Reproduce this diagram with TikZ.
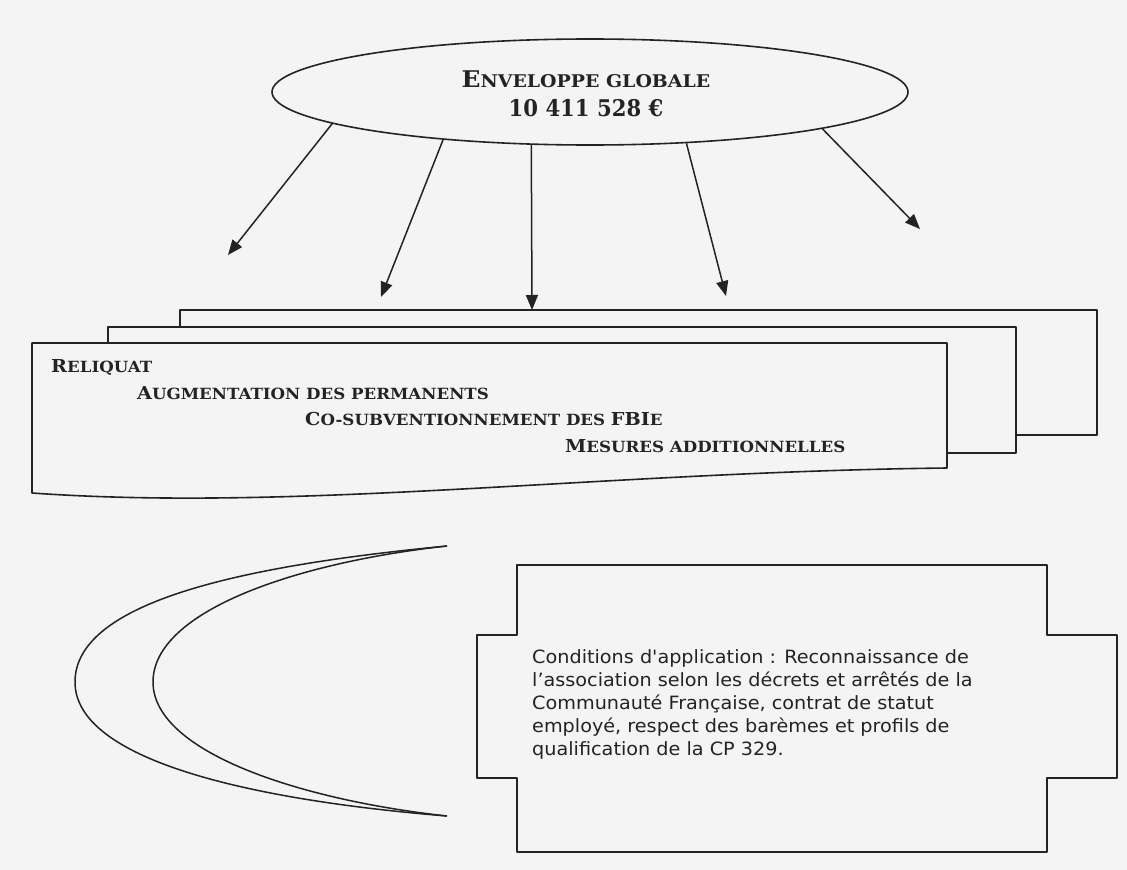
\documentclass[tikz,border=0pt]{standalone}
\usepackage{fontspec}
\usetikzlibrary{shapes.geometric,arrows.meta}
\newfontfamily\scf[FakeStretch=1.08]{DejaVu Serif}
\newfontfamily\numf[FakeStretch=0.92]{DejaVu Serif}
\newfontfamily\boxf[FakeStretch=1.05]{DejaVu Sans}
\definecolor{bg}{RGB}{244,244,244}
\definecolor{ink}{RGB}{35,35,35}
\newcommand\tB{\fontsize{23}{26}\selectfont}
\newcommand\tS{\fontsize{17.5}{20}\selectfont}
\newcommand\bB{\fontsize{17.8}{20}\selectfont}
\newcommand\bS{\fontsize{15.4}{18}\selectfont}
\begin{document}
\begin{tikzpicture}[x=1pt,y=-1pt,line join=round,
  shapeline/.style={draw=ink,line width=1.6pt,fill=bg},
  arr/.style={draw=ink,line width=1.5pt,-{Triangle[length=15pt,width=12pt]}},
  sctext/.style={inner sep=0pt,anchor=base west,font=\scf\bfseries,text=ink}]
\fill[bg] (0,0) rectangle (1127,870);
\useasboundingbox (0,0) rectangle (1127,870);

% top ellipse
\node[ellipse,draw=ink,line width=1.6pt,minimum width=636pt,minimum height=106pt,inner sep=0pt] (env) at (590,92) {};
\node[inner sep=0pt,anchor=base,font=\scf\bfseries,text=ink] (envt1) at (586,87) {{\tB E}{\tS NVELOPPE GLOBALE}};
\node[inner sep=0pt,anchor=base,font=\numf\bfseries\fontsize{23}{26}\selectfont,text=ink] (envt2) at (586,116) {10 411 528 €};

% stacked boxes
\draw[shapeline] (180,310) rectangle (1097,435);
\draw[shapeline] (108,327) rectangle (1016,453);
\draw[shapeline] (32,343) -- (947,343) -- (947,468)
  .. controls (600,472) and (300,512) .. (32,493) -- cycle;

\node[sctext] (t1) at (51,372) {{\bB R}{\bS ELIQUAT}};
\node[sctext] (t2) at (137,399) {{\bB A}{\bS UGMENTATION DES PERMANENTS}};
\node[sctext] (t3) at (305,425) {{\bB C}{\bS O-SUBVENTIONNEMENT DES }{\bB FBI}{\bS E}};
\node[sctext] (t4) at (565,452) {{\bB M}{\bS ESURES ADDITIONNELLES}};

% arrows
\coordinate (e1) at (228,255);
\coordinate (e2) at (381,297);
\coordinate (e3) at (532,310);
\coordinate (e4) at (726,296);
\coordinate (e5) at (920,229);
\draw[arr] (env.187) -- (e1);
\draw[arr] (env.198) -- (e2);
\draw[arr] (env.222) -- (e3);
\draw[arr] (env.332) -- (e4);
\draw[arr] (env.351) -- (e5);

% crescent
\draw[draw=ink,line width=1.5pt] (447,546) .. controls (250,565) and (75,600) .. (75,682)
  .. controls (75,760) and (250,800) .. (447,816);
\draw[draw=ink,line width=1.5pt] (447,546) .. controls (300,562) and (153,610) .. (153,682)
  .. controls (153,752) and (300,800) .. (447,816);

% plaque
\draw[shapeline] (517,565) -- (1047,565) -- (1047,635) -- (1117,635) -- (1117,778)
  -- (1047,778) -- (1047,852) -- (517,852) -- (517,778) -- (477,778) -- (477,635)
  -- (517,635) -- cycle;
\node[inner sep=0pt,anchor=north west,align=left,text=ink,
  font=\boxf\fontsize{18.3}{23}\selectfont] (cond) at (532,649)
  {Conditions d'application : Reconnaissance de\\
   l’association selon les décrets et arrêtés de la\\
   Communauté Française, contrat de statut\\
   employé, respect des barèmes et profils de\\
   qualification de la CP 329.};
\end{tikzpicture}
\end{document}
